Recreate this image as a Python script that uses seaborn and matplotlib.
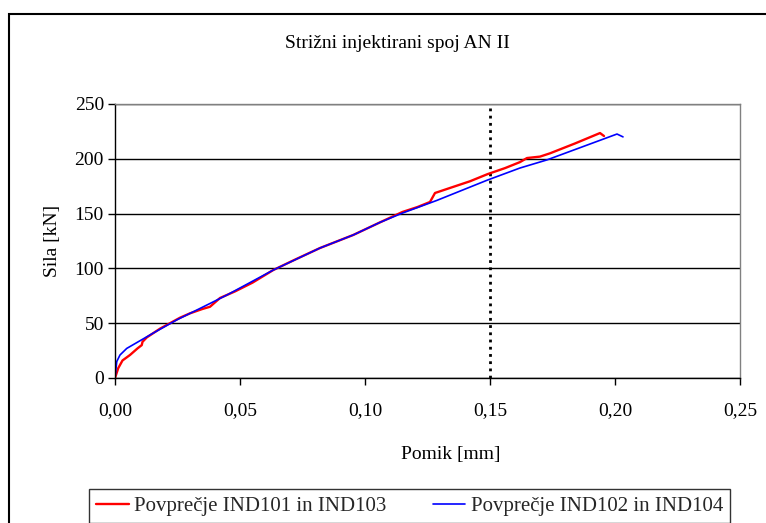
import pandas as pd
import matplotlib
matplotlib.use("Agg")
import matplotlib.pyplot as plt
import seaborn as sns
from matplotlib.patches import Rectangle

# Povprečje IND101 in IND103 (red)
red_x = [0.0, 0.0013, 0.003, 0.006, 0.009, 0.0107, 0.011, 0.0127, 0.018, 0.022, 0.026,
         0.030, 0.035, 0.038, 0.042, 0.048, 0.055, 0.0633, 0.072, 0.082, 0.0953, 0.106,
         0.115, 0.121, 0.126, 0.128, 0.134, 0.142, 0.149, 0.156, 0.162, 0.1648, 0.170,
         0.174, 0.184, 0.194, 0.1956]
red_y = [0, 9, 16, 21, 27, 30, 33, 37, 45, 50, 55,
         59, 63, 65, 73, 79, 87, 98.5, 108, 118.6, 130.5, 142,
         151.5, 156, 160.6, 168.8, 173.4, 179.5, 186, 191.5, 197, 200.7, 202,
         205, 214, 223.5, 220.8]

# Povprečje IND102 in IND104 (blue)
blue_x = [0.0, 0.0007, 0.002, 0.0047, 0.010, 0.0153, 0.0247, 0.0327, 0.038, 0.045,
          0.0633, 0.082, 0.0953, 0.106, 0.115, 0.1287, 0.149, 0.162, 0.1728, 0.2008, 0.2032]
blue_y = [0, 15, 21, 27, 34, 41, 53, 62, 68, 76,
          98.5, 118.6, 130.5, 142, 150.5, 162, 180.6, 191.6, 199, 222.6, 220]

x_ticks = [0.0, 0.05, 0.10, 0.15, 0.20, 0.25]
y_ticks = [0, 50, 100, 150, 200, 250]
limit_x = 0.15

sns.set_theme(style="white")
plt.rcParams["font.family"] = ["Liberation Serif", "DejaVu Serif"]

fig = plt.figure(figsize=(7.66, 5.23), dpi=100)
ax = fig.add_axes([115 / 766, 1 - 378 / 523, (740 - 115) / 766, (378 - 104) / 523])

red_df = pd.DataFrame({"x": red_x, "y": red_y})
blue_df = pd.DataFrame({"x": blue_x, "y": blue_y})
sns.lineplot(data=red_df, x="x", y="y", ax=ax, sort=False, estimator=None,
             color="#FF0000", linewidth=1.7, label="Povprečje IND101 in IND103")
sns.lineplot(data=blue_df, x="x", y="y", ax=ax, sort=False, estimator=None,
             color="#0000FF", linewidth=1.2, label="Povprečje IND102 in IND104")

ax.plot([limit_x, limit_x], [0, 250], color="black", linewidth=2,
        linestyle=(0, (1, 1.6)), zorder=1)

ax.set_xlim(0, 0.25)
ax.set_ylim(0, 250)
ax.set_xticks(x_ticks)
ax.set_xticklabels([f"{t:.2f}".replace(".", ",") for t in x_ticks])
ax.set_yticks(y_ticks)
ax.yaxis.grid(True, color="black", linewidth=1)
ax.xaxis.grid(False)
ax.set_axisbelow(True)

for side in ["top", "right"]:
    ax.spines[side].set_color("#808080")
    ax.spines[side].set_linewidth(1)
for side in ["left", "bottom"]:
    ax.spines[side].set_color("black")
    ax.spines[side].set_linewidth(1)

ax.tick_params(axis="both", direction="out", length=5, width=1, color="black",
               labelsize=14, labelcolor="black", left=True, bottom=True)
ax.tick_params(axis="x", pad=12)
ax.tick_params(axis="y", pad=3)

ax.set_xlabel("Pomik [mm]", fontsize=14, color="black", labelpad=20)
ax.xaxis.label.set_x((451 - 115) / 625)
ax.set_ylabel("Sila [kN]", fontsize=14, color="black", labelpad=10)

fig.text(397 / 766, 1 - 43 / 523, "Strižni injektirani spoj AN II",
         ha="center", va="center", fontsize=14, color="black")

handles, labels = ax.get_legend_handles_labels()
ax.get_legend().remove()
leg = fig.legend(handles, labels, loc="upper left", ncol=2,
                 bbox_to_anchor=(89 / 766, 1 - 489 / 523), fontsize=15,
                 frameon=True, fancybox=False, edgecolor="black",
                 handlelength=1.55, handletextpad=0.25, columnspacing=2.25,
                 borderpad=0.35, borderaxespad=0)
leg.get_frame().set_linewidth(1)

# outer chart frame (cut off at right and bottom like the reference)
fig.patches.append(Rectangle((9 / 766, -0.2), 1.2, 1.2 - 14 / 523,
                             transform=fig.transFigure, fill=False,
                             edgecolor="black", linewidth=1.5))

fig.savefig("out.png", dpi=100)
